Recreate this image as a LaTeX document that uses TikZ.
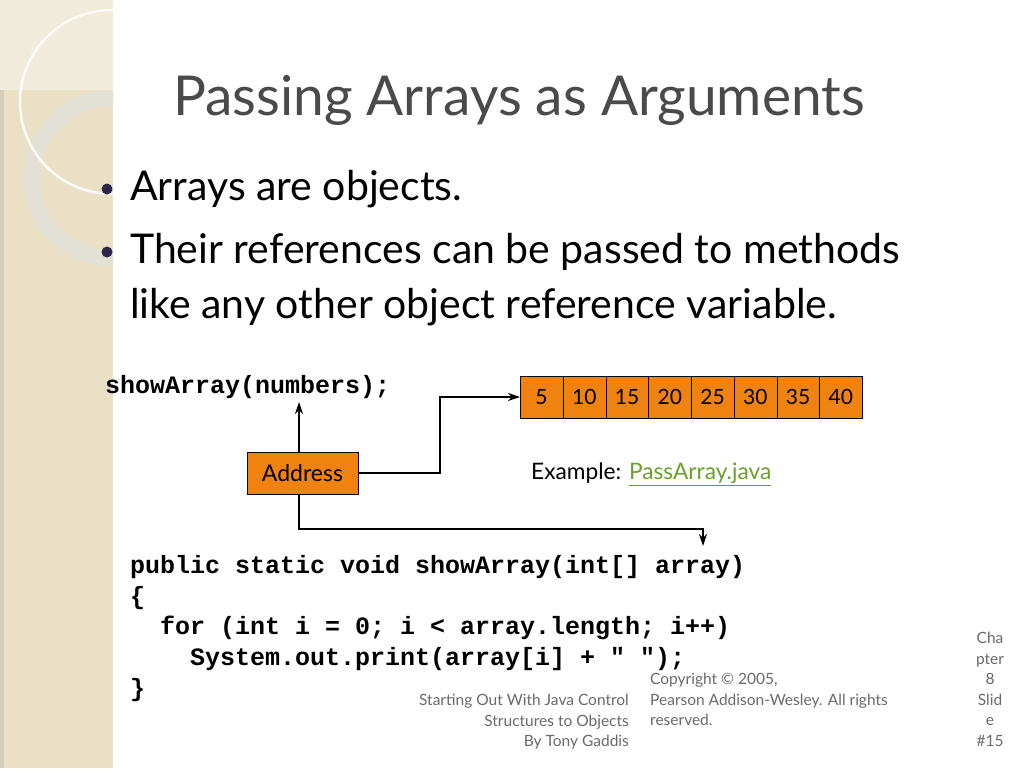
\documentclass[tikz,border=0pt]{standalone}
\usepackage{fontspec}
\setmainfont{Lato}
\newfontfamily\codefont{Liberation Mono}
\usetikzlibrary{arrows.meta}
\definecolor{beige}{HTML}{E9E0C6}
\definecolor{beigelt}{HTML}{F1EBDB}
\definecolor{ringc}{HTML}{E3E0D6}
\definecolor{org}{HTML}{F0830F}
\definecolor{titlec}{HTML}{4A4A4A}
\definecolor{footc}{HTML}{6A6A6A}
\definecolor{linkc}{HTML}{6AA12A}
\definecolor{bulc}{HTML}{2E2448}
\tikzset{
  cell/.style={draw=black,fill=org,minimum width=42.75pt,minimum height=42pt,inner sep=0pt,font=\fontsize{21}{21}\selectfont,anchor=west},
  code/.style={anchor=west,inner sep=0pt,font=\codefont\bfseries\fontsize{25}{25}\selectfont},
  bul/.style={anchor=west,inner sep=0pt,font=\fontsize{41}{41}\selectfont},
  foot/.style={inner sep=0pt,text=footc,font=\fontsize{15.5}{20.5}\selectfont},
  conn/.style={-{Stealth[length=12pt,width=8pt]},line width=1.3pt}
}
\begin{document}
\begin{tikzpicture}[x=1pt,y=-1pt]
\useasboundingbox (0,0) rectangle (1024,768);
\fill[white] (0,0) rectangle (1024,768);
% left band
\fill[beige] (0,0) rectangle (113,768);
\fill[beige!80!gray] (0,0) rectangle (4,768);
\begin{scope}
\clip (0,0) rectangle (113,768);
\fill[beigelt] (0,0) rectangle (113,90);
\draw[ringc,line width=16pt] (112,178) circle (80);
\draw[white!85!beige,line width=2.5pt] (112,102) circle (92);
\end{scope}
% title
\node[inner sep=0pt,text=titlec,font=\fontsize{55}{55}\selectfont] (title) at (519,100) {Passing Arrays as Arguments};
% bullets
\fill[bulc] (107,189) circle (5.5);
\fill[bulc] (107,252) circle (5.5);
\node[bul] (b1) at (130,189) {Arrays are objects.};
\node[bul] (b2) at (130,252) {Their references can be passed to methods};
\node[bul] (b3) at (130,307) {like any other object reference variable.};
% call
\node[code,anchor=west] (call) at (105,387) {showArray(numbers);};
\coordinate (callbot) at (299,402);
% array
\foreach \v [count=\i from 0] in {5,10,15,20,25,30,35,40}{
  \node[cell] (c\i) at (520+\i*42.75,397) {\v};
}
% address
\node[draw=black,fill=org,minimum width=111pt,minimum height=42pt,inner sep=0pt,font=\fontsize{23}{23}\selectfont] (addr) at (302.5,473) {Address};
\draw[conn] (addr.north -| callbot) -- (callbot);
\draw[conn] (addr.east) -- (440,473) -- (440,397) -- (c0.west);
\coordinate (param) at (703,546);
\draw[conn] (addr.south -| callbot) -- (299,529) -- (703,529) -- (param);
% example
\node[anchor=west,inner sep=0pt,font=\fontsize{22.7}{22.7}\selectfont] (ex) at (531,474) {Example: \textcolor{linkc}{\underline{PassArray.java}}};
% code
\node[code] (l1) at (130,567) {public static void showArray(int[] array)};
\node[code] (l2) at (130,598) {\{};
\node[code] (l3) at (160,628) {for (int i = 0; i < array.length; i++)};
\node[code] (l4) at (190,659) {System.out.print(array[i] + " ");};
\node[code] (l5) at (130,690) {\}};
% footer
\node[foot,align=right,anchor=north east] (f1) at (629,694) {Starting Out With Java Control\\Structures to Objects\\By Tony Gaddis};
\node[foot,align=left,anchor=north west] (f2) at (650,673) {Copyright © 2005,\\Pearson Addison-Wesley. All rights\\reserved.};
\node[foot,align=center,anchor=north] (f3) at (990,632) {Cha\\pter\\8\\Slid\\e\\\#15};
\end{tikzpicture}
\end{document}
